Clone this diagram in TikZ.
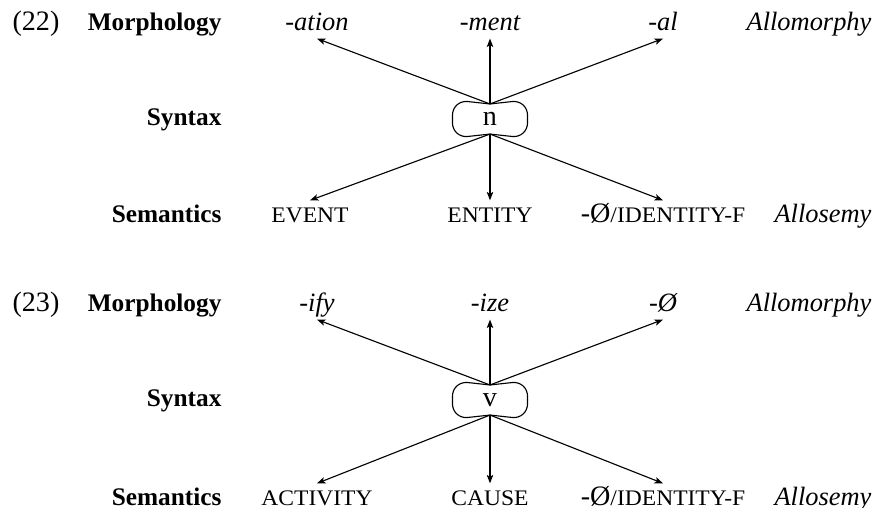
\documentclass[tikz,border=0pt]{standalone}
\usepackage{fontspec}
\setmainfont{Liberation Serif}
\newfontfamily\scfont[FakeStretch=1.06]{Liberation Serif}
\newcommand{\smc}[1]{{\fontsize{7.9pt}{8pt}\scfont #1}}
\usetikzlibrary{arrows.meta}
\tikzset{
  tierlabel/.style={anchor=base east,font=\fontsize{9pt}{11pt}\bfseries,inner sep=0pt},
  exnumber/.style={anchor=base west,inner sep=0pt},
  sidelabel/.style={anchor=base east,font=\fontsize{9.4pt}{11pt}\itshape,inner sep=0pt},
  exponent/.style={
    anchor=base,
    font=\fontsize{9.4pt}{11pt}\itshape,
    text height=7pt,
    text depth=2.35pt,
    inner sep=0.5pt
  },
  meaning/.style={
    anchor=base,
    text height=7pt,
    text depth=2.35pt,
    inner sep=0.5pt
  },
  headbox/.style={minimum width=26.3pt,minimum height=13.2pt,inner sep=0pt},
  outline/.style={rounded corners=5.5pt,line width=0.4pt},
  arrow/.style={-{Stealth[length=3pt,width=2.3pt,inset=0.7pt]},line width=0.4pt}
}

\begin{document}
\begin{tikzpicture}[x=0.0125cm,y=-0.0125cm]
\useasboundingbox (0,0) rectangle (883,507);

% (22) nominal head
\node[exnumber] (ex22) at (12,30) {(22)};
\node[tierlabel] (morph22) at (222,30) {Morphology};
\node[headbox] (n) at (490,119) {n};
\node[tierlabel] (syn22) at (222,0 |- n.base) {Syntax};
\node[tierlabel] (sem22) at (222,222) {Semantics};

\node[exponent] (ation) at (317,30) {-ation};
\node[exponent] (ment) at (490,30) {-ment};
\node[exponent] (al) at (663,30) {-al};
\node[sidelabel] (allomorph22) at (872,30) {Allomorphy};

\node[meaning] (event) at (310,222) {\smc{EVENT}};
\node[meaning] (entity) at (490,222) {\smc{ENTITY}};
\node[meaning] (identn) at (663,222) {-Ø\smc{/IDENTITY-F}};
\node[sidelabel] (allosem22) at (872,222) {Allosemy};

\coordinate (ntop) at ([yshift=-1.45pt]n.north);
\coordinate (nbot) at ([yshift=1.45pt]n.south);
\draw[outline] (ntop) -- (n.north east) -- (n.south east) -- (nbot);
\draw[outline] (ntop) -- (n.north west) -- (n.south west) -- (nbot);

\draw[arrow] (ntop) -- (ation.south);
\draw[arrow] (ntop) -- (ment.south);
\draw[arrow] (ntop) -- (al.south);
\draw[arrow] (nbot) -- (event.north);
\draw[arrow] (nbot) -- (entity.north);
\draw[arrow] (nbot) -- (identn.north);

% (23) verbal head
\node[exnumber] (ex23) at (12,311) {(23)};
\node[tierlabel] (morph23) at (222,311) {Morphology};
\node[headbox] (v) at (490,400) {v};
\node[tierlabel] (syn23) at (222,0 |- v.base) {Syntax};
\node[tierlabel] (sem23) at (222,505) {Semantics};

\node[exponent] (ify) at (317,311) {-ify};
\node[exponent] (ize) at (490,311) {-ize};
\node[exponent] (zero) at (663,311) {-Ø};
\node[sidelabel] (allomorph23) at (872,311) {Allomorphy};

\node[meaning] (activity) at (317,505) {\smc{ACTIVITY}};
\node[meaning] (cause) at (490,505) {\smc{CAUSE}};
\node[meaning] (identv) at (663,505) {-Ø\smc{/IDENTITY-F}};
\node[sidelabel] (allosem23) at (872,505) {Allosemy};

\coordinate (vtop) at ([yshift=-1.45pt]v.north);
\coordinate (vbot) at ([yshift=1.45pt]v.south);
\draw[outline] (vtop) -- (v.north east) -- (v.south east) -- (vbot);
\draw[outline] (vtop) -- (v.north west) -- (v.south west) -- (vbot);

\draw[arrow] (vtop) -- (ify.south);
\draw[arrow] (vtop) -- (ize.south);
\draw[arrow] (vtop) -- (zero.south);
\draw[arrow] (vbot) -- (activity.north);
\draw[arrow] (vbot) -- (cause.north);
\draw[arrow] (vbot) -- (identv.north);

\end{tikzpicture}
\end{document}
